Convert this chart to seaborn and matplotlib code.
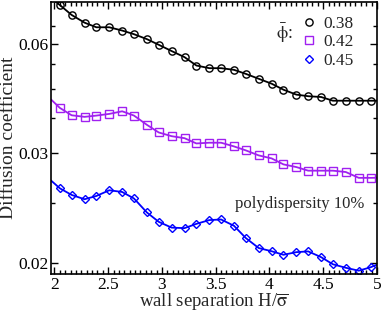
import numpy as np
import matplotlib
matplotlib.use("Agg")
import matplotlib.pyplot as plt
from matplotlib.lines import Line2D
from matplotlib.ticker import FixedLocator, MultipleLocator, FuncFormatter, NullFormatter
import seaborn as sns

np.seterr(all="ignore")

# wall separation of the simulated points
H = [2.05, 2.16, 2.28, 2.39, 2.51, 2.63, 2.74, 2.86, 2.97, 3.09, 3.21, 3.32, 3.44,
     3.55, 3.67, 3.78, 3.90, 4.02, 4.13, 4.25, 4.36, 4.48, 4.59, 4.71, 4.83, 4.94]

# diffusion coefficient for each packing fraction
D_038 = [0.0930, 0.0815, 0.0744, 0.0707, 0.0707, 0.0683, 0.0658, 0.0627, 0.0595, 0.0563,
         0.0535, 0.0501, 0.0491, 0.0491, 0.0485, 0.0471, 0.0455, 0.0440, 0.0423, 0.0410,
         0.0406, 0.0404, 0.0395, 0.0395, 0.0395, 0.0395]
D_042 = [0.03787, 0.03632, 0.03601, 0.03626, 0.03660, 0.03714, 0.03626, 0.03450, 0.03317,
         0.03256, 0.03224, 0.03143, 0.03154, 0.03154, 0.03099, 0.03042, 0.02973, 0.02933,
         0.02857, 0.02824, 0.02781, 0.02781, 0.02781, 0.02765, 0.02699, 0.02699]
D_045 = [0.02588, 0.02522, 0.02481, 0.02512, 0.02568, 0.02551, 0.02488, 0.02363, 0.02286,
         0.02241, 0.02237, 0.02270, 0.02300, 0.02305, 0.02255, 0.02164, 0.02095, 0.02074,
         0.02051, 0.02068, 0.02073, 0.02036, 0.01992, 0.01971, 0.01954, 0.01974]

# smooth curve continues to the frame edges
H_edges = [1.968, 5.0]
edge_038 = [0.103, 0.0395]
edge_042 = [0.0398, 0.0270]
edge_045 = [0.0267, 0.0199]

phi_labels = ["0.38", "0.42", "0.45"]
colors = ["black", "#a020f0", "#0000ff"]
markers = ["o", "s", "D"]

sns.set_style("ticks")
plt.rcParams["font.family"] = ["Liberation Serif", "DejaVu Serif"]
plt.rcParams["mathtext.fontset"] = "stix"

fig = plt.figure(figsize=(3.82, 3.13), dpi=100)
ax = fig.add_axes([51 / 382, 1 - 274 / 313, 326 / 382, 272 / 313])

# y axis is linear in 1/D
ax.set_yscale("function", functions=(lambda d: -1.0 / np.asarray(d), lambda u: -1.0 / np.asarray(u)))

series = [(D_038, edge_038), (D_042, edge_042), (D_045, edge_045)]
for (d, e), col, mk in zip(series, colors, markers):
    xs = [H_edges[0]] + H + [H_edges[1]]
    ys = [e[0]] + d + [e[1]]
    ms = 5.2 if mk != "D" else 4.3
    sns.lineplot(x=xs, y=ys, ax=ax, color=col, linewidth=1.3, marker=mk,
                 markersize=ms, markerfacecolor="none", markeredgecolor=col,
                 markeredgewidth=1.0, markevery=slice(1, len(xs) - 1), sort=False)

ax.set_xlim(1.968, 5.0)
ax.set_ylim(0.01935, 0.0971)

ax.xaxis.set_major_locator(MultipleLocator(0.5))
ax.xaxis.set_minor_locator(MultipleLocator(0.05))
ax.xaxis.set_major_formatter(FuncFormatter(lambda v, p: f"{v:g}"))
ax.yaxis.set_major_locator(FixedLocator([0.02, 0.03, 0.06]))
ax.yaxis.set_minor_locator(FixedLocator([0.0245, 0.0357, 0.0424, 0.0505, 0.0714]))
ax.yaxis.set_major_formatter(FuncFormatter(lambda v, p: f"{v:.2f}"))
ax.yaxis.set_minor_formatter(NullFormatter())

ax.tick_params(which="both", direction="in", top=True, right=True, width=1.0,
               labelsize=12.5, pad=2, colors="black")
ax.tick_params(which="major", length=5)
ax.tick_params(which="minor", length=3)
for s in ax.spines.values():
    s.set_linewidth(1.2)
    s.set_color("black")

ax.set_xlabel("wall separation H/$\\overline{\\mathrm{\\sigma}}$", fontsize=13.5, labelpad=-1)
ax.set_ylabel("Diffusion coefficient", fontsize=14, labelpad=1)

handles = [Line2D([], [], linestyle="none", marker=mk, color=col, markerfacecolor="none",
                  markeredgewidth=1.0, markersize=5.2 if mk != "D" else 4.3)
           for col, mk in zip(colors, markers)]
ax.legend(handles, phi_labels, loc="upper left", bbox_to_anchor=(0.771, 0.950),
          frameon=False, borderpad=0, borderaxespad=0, handlelength=0.8,
          handletextpad=0.4, labelspacing=0.14, fontsize=12.5)
ax.text(0.69, 0.886, "$\\bar{\\mathrm{\\phi}}$:", transform=ax.transAxes, fontsize=13, va="center")
ax.text(0.564, 0.257, "polydispersity 10%", transform=ax.transAxes, fontsize=12, va="center")

fig.savefig("out.png", dpi=100)
